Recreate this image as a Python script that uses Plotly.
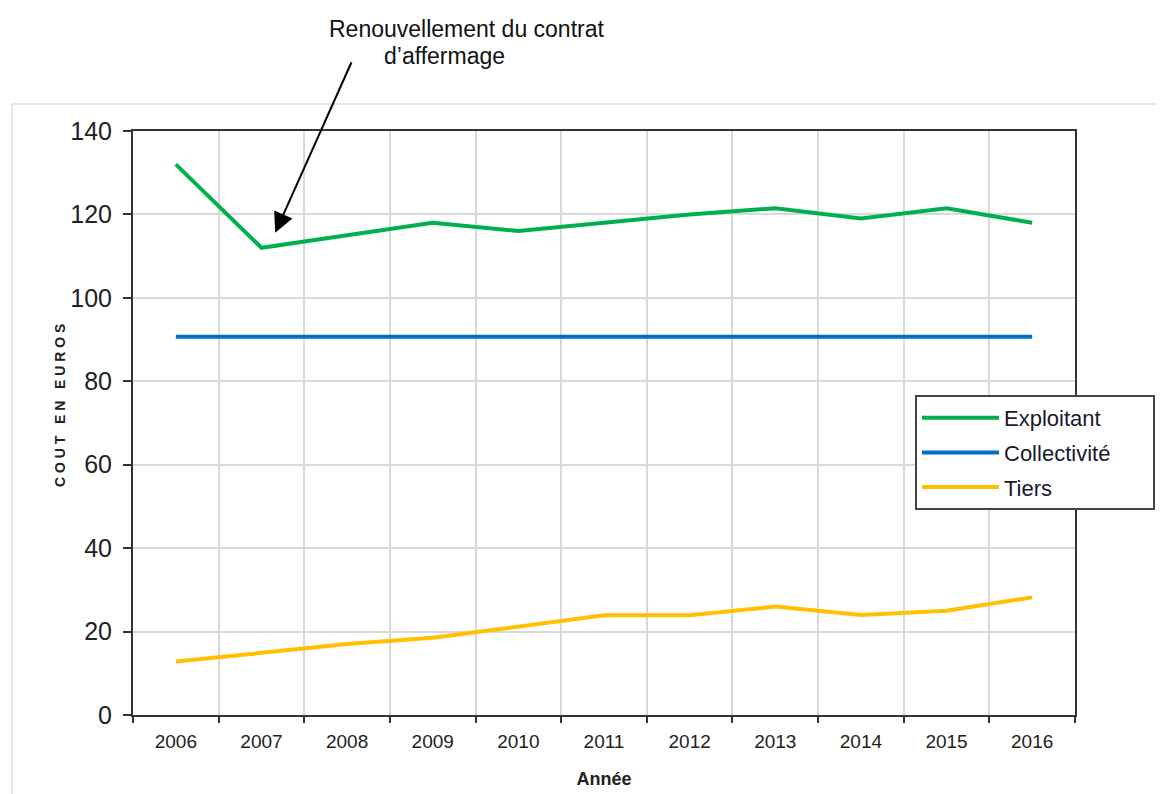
import plotly.graph_objects as go

years = ["2006", "2007", "2008", "2009", "2010", "2011", "2012", "2013", "2014", "2015", "2016"]
exploitant = [132, 112, 115, 118, 116, 118, 120, 121.5, 119, 121.5, 118]
collectivite = [90.7] * 11
tiers = [12.8, 15, 17, 18.5, 21.3, 23.9, 23.9, 26, 24, 25, 28.2]
yticks = [0, 20, 40, 60, 80, 100, 120, 140]

font_family = "Liberation Sans, Arial, sans-serif"

# plot area in page pixels (page body has 8px offset)
PL, PR, PT, PB = 133, 1075, 131, 715
W = PR - PL
H = PB - PT


def px_x(p):
    return (p - PL) / W


def px_y(p):
    return (PB - p) / H


fig = go.Figure()
fig.add_trace(go.Scatter(x=years, y=exploitant, mode="lines", name="Exploitant", legendgroup="a",
                         line=dict(color="#00b050", width=4)))
fig.add_trace(go.Scatter(x=years, y=collectivite, mode="lines", name="Collectivité\u00a0\u00a0\u00a0\u00a0\u00a0\u00a0", legendgroup="b",
                         line=dict(color="#0070c0", width=4)))
fig.add_trace(go.Scatter(x=years, y=tiers, mode="lines", name="Tiers", legendgroup="c",
                         line=dict(color="#ffc000", width=4)))

fig.update_layout(
    width=1165, height=794,
    margin=dict(l=PL - 8, r=1165 + 8 - PR, t=PT - 8, b=794 + 8 - PB),
    paper_bgcolor="white", plot_bgcolor="white",
    font=dict(family=font_family, color="#222222"),
    showlegend=True,
    legend=dict(x=px_x(915), y=px_y(395), xanchor="left", yanchor="top",
                bgcolor="white", bordercolor="#444444", borderwidth=2,
                font=dict(size=22, color="#1a1a2e"),
                itemwidth=77, tracegroupgap=3),
    xaxis=dict(type="category", range=[-0.5, 10.5], tickson="boundaries",
               showgrid=True, gridcolor="#d9d9d9", gridwidth=1.5,
               showline=True, linecolor="#333333", linewidth=2, mirror=True,
               ticks="outside", ticklen=6, tickcolor="#333333", tickwidth=2,
               tickfont=dict(size=19, color="#222222"), ticklabelstandoff=8,
               title=dict(text="<b>Année</b>", font=dict(size=18, color="#222222"), standoff=22)),
    yaxis=dict(range=[0, 140], tickvals=yticks, showgrid=True, gridcolor="#d9d9d9", gridwidth=1.5,
               showline=True, linecolor="#333333", linewidth=2, mirror=True,
               ticks="outside", ticklen=8, tickcolor="#333333", tickwidth=2,
               tickfont=dict(size=25, color="#222222"), zeroline=False, ticklabelstandoff=6),
)

# Y axis title as rotated annotation
fig.add_annotation(xref="paper", yref="paper", x=px_x(60), y=px_y(406),
                   text="<b>C O U T   E N   E U R O S</b>", showarrow=False, textangle=-90,
                   font=dict(size=14, color="#222222", family=font_family),
                   xanchor="center", yanchor="middle")

# Outer light frame
fig.add_shape(type="rect", xref="paper", yref="paper",
              x0=px_x(12), x1=px_x(1200), y0=px_y(830), y1=px_y(104),
              line=dict(color="#e6e6e6", width=2), fillcolor="rgba(0,0,0,0)", layer="below")

# Annotation text
fig.add_annotation(xref="paper", yref="paper", x=px_x(466), y=px_y(29),
                   text="Renouvellement du contrat", showarrow=False,
                   font=dict(size=23, color="#111111", family=font_family),
                   xanchor="center", yanchor="middle")
fig.add_annotation(xref="paper", yref="paper", x=px_x(444), y=px_y(56),
                   text="d’affermage", showarrow=False,
                   font=dict(size=23, color="#111111", family=font_family),
                   xanchor="center", yanchor="middle")
# Arrow
fig.add_annotation(x=1.16, y=115.6, xref="x", yref="y", text="", showarrow=True,
                   arrowhead=2, arrowsize=2, arrowwidth=2, arrowcolor="#000000",
                   ax=77, ay=-172)

fig.write_html("out.html")
